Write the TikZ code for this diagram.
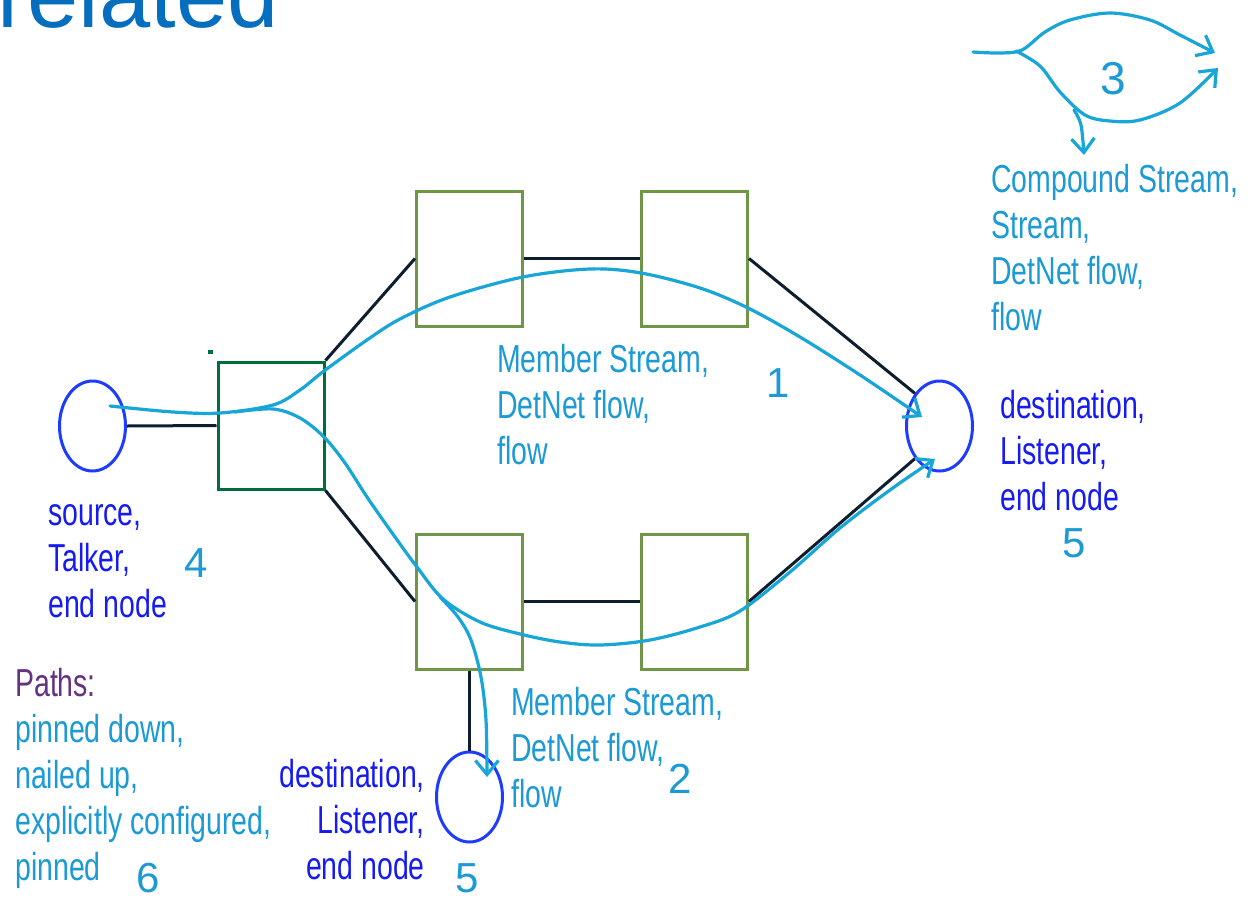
\documentclass[tikz,border=0pt]{standalone}
\usepackage{fontspec}
\setmainfont{Liberation Sans}
\newfontfamily\condfont[FakeStretch=0.73]{Liberation Sans}
\usetikzlibrary{shapes.geometric,arrows.meta}
\definecolor{flowc}{RGB}{24,165,215}
\definecolor{txtc}{RGB}{28,154,214}
\definecolor{endc}{RGB}{22,28,240}
\definecolor{ellc}{RGB}{30,60,255}
\definecolor{navy}{RGB}{15,30,46}
\definecolor{swg}{RGB}{0,110,60}
\definecolor{boxg}{RGB}{110,150,70}
\definecolor{pathc}{RGB}{100,50,130}
\definecolor{titlec}{RGB}{5,110,190}
\begin{document}
\begin{tikzpicture}[x=1pt,y=-1pt,
  endnode/.style={ellipse, draw=ellc, line width=3pt, minimum width=66pt, minimum height=90pt, inner sep=0},
  bridge/.style={rectangle, draw=boxg, line width=3pt, minimum width=106pt, minimum height=135pt, inner sep=0},
  switchbox/.style={rectangle, draw=swg, line width=3pt, minimum width=106pt, minimum height=127pt, inner sep=0},
  link/.style={draw=navy, line width=3pt},
  flow/.style={draw=flowc, line width=3.2pt, line cap=round},
  flowarrow/.style={flow, -{Straight Barb[length=14pt,width=23pt]}},
  lbl/.style={font=\condfont\fontsize{39}{46}\selectfont, inner sep=0, align=left, anchor=base west},
  num/.style={font=\fontsize{42}{42}\selectfont, text=txtc, inner sep=0, anchor=base west}]
\useasboundingbox (0,0) rectangle (1251,900);
\fill[white] (0,0) rectangle (1251,900);
% title
\begin{scope}
\clip (0,0) rectangle (1251,900);
\node[font=\fontsize{92}{92}\selectfont, text=titlec, inner sep=0, anchor=base west] (title) at (-3,27) {related};
\end{scope}
% nodes
\node[endnode] (src) at (92.5,426) {};
\node[switchbox] (sw) at (271,425.5) {};
\node[bridge] (u1) at (469.5,258.5) {};
\node[bridge] (u2) at (694.5,258.5) {};
\node[bridge] (l1) at (469.5,601.5) {};
\node[bridge] (l2) at (694.5,601.5) {};
\node[endnode] (dst) at (939.5,426) {};
\node[endnode] (dst2) at (469.5,797) {};
\fill[swg] (208,350) rectangle (213,354);
% links
\draw[link] (src.east) -- (sw.west);
\draw[link] (sw.north east) -- (u1.west);
\draw[link] (sw.south east) -- (l1.west);
\draw[link] (u1.east) -- (u2.west);
\draw[link] (l1.east) -- (l2.west);
\draw[link] (u2.east) -- (dst.127);
\draw[link] (l2.east) -- (dst.233);
\draw[link] (l1.south) -- (dst2.north);
% flows
\draw[flowarrow] plot[smooth, tension=0.55] coordinates {(110,406) (173,412) (220,413) (273,405) (300,390) (324,371) (367,340) (400,319) (450,297) (523,277) (590,269) (641,273) (700,288) (748,308) (800,337) (860,375) (922,417)};
\draw[flowarrow] plot[smooth, tension=0.55] coordinates {(235,412) (273,409) (300,418) (324,437) (345,463) (367,497) (395,537) (417,567) (443,599) (480,622) (520,634) (560,642) (600,645) (650,640) (700,627) (740,611) (790,572) (840,528) (890,490) (935,459)};
\draw[flowarrow] plot[smooth, tension=0.55] coordinates {(440,597) (458,617) (471,640) (481,677) (486,720) (487,777)};
% compound stream icon
\draw[flowarrow] plot[smooth, tension=0.55] coordinates {(973,52) (1000,53) (1022,50) (1045,32) (1070,20) (1110,13) (1150,20) (1180,35) (1215,53)};
\draw[flowarrow] plot[smooth, tension=0.55] coordinates {(1016,51) (1040,66) (1060,92) (1085,115) (1110,121) (1140,120) (1180,103) (1218,68)};
\draw[flowarrow] plot[smooth, tension=0.55] coordinates {(1074,110) (1081,125) (1084,155)};
% labels (base anchor = baseline of the last line)
\node[lbl, text=txtc] (m1) at (497,464) {Member Stream,\\DetNet flow,\\flow};
\node[num] (n1) at (766,397) {1};
\node[lbl, text=txtc] (m2) at (511,807) {Member Stream,\\DetNet flow,\\flow};
\node[num] (n2) at (668,793) {2};
\node[lbl, text=txtc] (cs) at (991,330) {Compound Stream,\\Stream,\\DetNet flow,\\flow};
\node[num, font=\fontsize{46}{46}\selectfont] (n3) at (1100,94) {3};
\node[lbl, text=endc] (srcl) at (48,617) {source,\\Talker,\\end node};
\node[num] (n4) at (184,577) {4};
\node[lbl, text=endc] (dstl) at (1000,510) {destination,\\Listener,\\end node};
\node[num] (n5) at (1062,557) {5};
\node[lbl, text=endc, align=right, anchor=base east] (dst2l) at (425,879) {destination,\\Listener,\\end node};
\node[num] (n5b) at (455,892) {5};
\node[lbl, text=txtc, font=\condfont\fontsize{39}{45.8}\selectfont] (paths) at (15,880) {\textcolor{pathc}{Paths:}\\pinned down,\\nailed up,\\explicitly configured,\\pinned};
\node[num] (n6) at (136,892) {6};
\end{tikzpicture}
\end{document}
